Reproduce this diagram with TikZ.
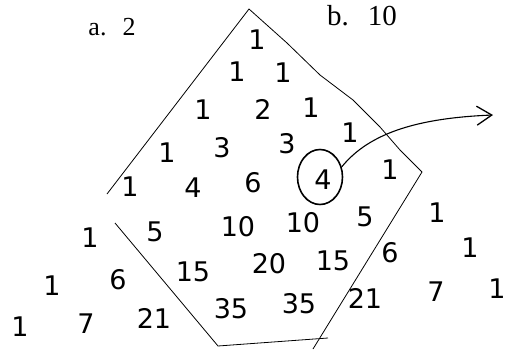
\documentclass[tikz,border=0pt]{standalone}
\usepackage{fontspec}
\setmainfont{Liberation Serif}
\newfontfamily\handfont{DejaVu Sans}
\usetikzlibrary{arrows.meta,shapes.geometric}
\begin{document}
\begin{tikzpicture}[x=1pt,y=-1pt,
  num/.style={font=\handfont\fontsize{27}{27}\selectfont, inner sep=0pt},
  lab/.style={font=\fontsize{26}{26}\selectfont, inner sep=0pt},
  outline/.style={draw=black, line width=0.8pt, line join=round},
  ring/.style={draw=black, line width=1.6pt, ellipse, minimum width=45pt, minimum height=55pt, inner sep=0pt},
  pointer/.style={draw=black, line width=1.1pt, -{Straight Barb[length=15pt,width=19pt,line width=1.3pt]}}]
\useasboundingbox (0,0) rectangle (507,362);
% labels
\node[lab] (la) at (112,27) {a.\hspace{16pt}2};
\node[lab, font=\fontsize{29}{29}\selectfont] (lb) at (362,16) {b.\hspace{19pt}10};
% row 0
\node[num] (n00) at (257,40) {1};
% row 1
\node[num] (n10) at (237,72) {1};
\node[num] (n11) at (283,73) {1};
% row 2
\node[num] (n20) at (203,110) {1};
\node[num] (n21) at (263,109) {2};
\node[num] (n22) at (311,108) {1};
% row 3
\node[num] (n30) at (167,153) {1};
\node[num] (n31) at (222,148) {3};
\node[num] (n32) at (287,144) {3};
\node[num] (n33) at (350,133) {1};
% row 4
\node[num] (n40) at (130,187) {1};
\node[num] (n41) at (193,188) {4};
\node[num] (n42) at (253,183) {6};
\node[num] (n43) at (323,180) {4};
\node[num] (n44) at (390,170) {1};
% row 5
\node[num] (n50) at (90,238) {1};
\node[num] (n51) at (155,232) {5};
\node[num] (n52) at (238,227) {10};
\node[num] (n53) at (303,223) {10};
\node[num] (n54) at (365,217) {5};
\node[num] (n55) at (437,213) {1};
% row 6
\node[num] (n60) at (52,286) {1};
\node[num] (n61) at (118,280) {6};
\node[num] (n62) at (193,272) {15};
\node[num] (n63) at (269,264) {20};
\node[num] (n64) at (333,261) {15};
\node[num] (n65) at (390,253) {6};
\node[num] (n66) at (470,248) {1};
% row 7
\node[num] (n70) at (20,327) {1};
\node[num] (n71) at (86,324) {7};
\node[num] (n72) at (154,318) {21};
\node[num] (n73) at (231,309) {35};
\node[num] (n74) at (299,304) {35};
\node[num] (n75) at (365,298) {21};
\node[num] (n76) at (436,292) {7};
\node[num] (n77) at (497,289) {1};
% ring around the 4
\node[ring] (ring) at (320,177) {};
% outline coordinates
\coordinate (top) at (249,9);
\coordinate (r1) at (287,43);
\coordinate (r2) at (320,75);
\coordinate (r3) at (353,100);
\coordinate (r4) at (380,127);
\coordinate (r5) at (400,150);
\coordinate (rc) at (422,172);
\coordinate (rb) at (313,349);
\coordinate (bl) at (218,346);
\coordinate (br) at (328,338);
\coordinate (lm) at (115,223);
\coordinate (lt) at (107,194);
\draw[outline] (lt) -- (top) -- (r1) -- (r2) -- (r3) -- (r4) -- (r5) -- (rc) -- (rb);
\draw[outline] (lm) -- (bl) -- (br);
% arrow
\coordinate (tip) at (493,115);
\draw[pointer] (ring.25) .. controls (370,132) and (420,118) .. (tip);
\end{tikzpicture}
\end{document}
